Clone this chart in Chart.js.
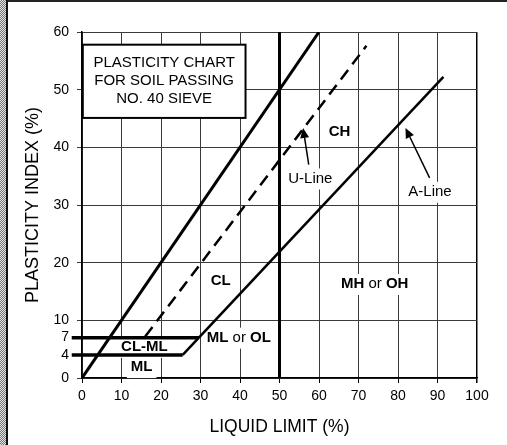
<!DOCTYPE html>
<html>
<head>
<meta charset="utf-8">
<script src="https://cdn.jsdelivr.net/npm/chart.js@4.4.1/dist/chart.umd.min.js"></script>
<style>
    html, body { margin: 0; padding: 0; background: #fff; }
    #wrap { position: relative; width: 507px; height: 445px; overflow: hidden; }
    #plasticity_chart { position: absolute; left: 0; top: 0; }
    .frame-top { position: absolute; left: 0; top: 0; width: 507px; height: 2px; background: #222; }
    .frame-left { position: absolute; left: 0; top: 0; width: 6px; height: 445px;
        background: repeating-conic-gradient(#777 0 25%, #e2e2e2 0 50%) 0 0 / 2px 2px; }
    .frame-left-line { position: absolute; left: 6px; top: 0; width: 2px; height: 445px; background: #111; }
</style>
</head>
<body>
<div id="wrap">
    <canvas id="plasticity_chart" width="507" height="445"></canvas>
    <div class="frame-top"></div>
    <div class="frame-left"></div>
    <div class="frame-left-line"></div>
</div>
<script>
// tick labels
const xTicks = [0, 10, 20, 30, 40, 50, 60, 70, 80, 90, 100];
const yTicks = [0, 4, 7, 10, 20, 30, 40, 50, 60];

// boundary lines, liquid limit (x) and plasticity index (y)
const upperLL = [0, 60],     upperPI = [0, 60];
const uLineLL = [16, 72],    uLinePI = [7.2, 57.6];
const aLineLL = [25.5, 91.5], aLinePI = [4, 52.2];
const ll50LL = [50, 50],     ll50PI = [0, 60];
const pi7LL = [-2.6, 29.6],  pi7PI = [7, 7];
const pi4LL = [-2.6, 25.5],  pi4PI = [4, 4];

// text in the chart
const titleLines = ["PLASTICITY CHART", "FOR SOIL PASSING", "NO. 40 SIEVE"];
const titleBox = { x0: 0.2, x1: 41.4, y0: 45.1, y1: 57.8 };
const zoneLabels = [
    { parts: [["CH", true]], x: 65.2, y: 42.6 },
    { parts: [["CL", true]], x: 35.1, y: 16.9 },
    { parts: [["MH", true], [" or ", false], ["OH", true]], x: 74.1, y: 16.3 },
    { parts: [["ML", true], [" or ", false], ["OL", true]], x: 39.7, y: 7.0 },
    { parts: [["CL-ML", true]], x: 15.8, y: 5.4 },
    { parts: [["ML", true]], x: 15.1, y: 1.9 },
    { parts: [["U-Line", false]], x: 57.8, y: 34.6 },
    { parts: [["A-Line", false]], x: 88.1, y: 32.3 }
];
const arrows = [
    { from: [57.4, 37.0], to: [55.97, 43.35] },
    { from: [88.0, 34.7], to: [81.9, 43.35] }
];

const FONT = "'Liberation Sans', Arial, sans-serif";
Chart.defaults.font.family = FONT;
Chart.defaults.color = "#000";

function points(xs, ys) {
    return xs.map(function (x, i) { return { x: x, y: ys[i] }; });
}

function lineSet(xs, ys, width, extra) {
    return Object.assign({
        data: points(xs, ys),
        showLine: true,
        borderColor: "#000",
        borderWidth: width,
        pointRadius: 0,
        fill: false
    }, extra || {});
}

function labelFont(bold) {
    return (bold ? "bold " : "") + "15px " + FONT;
}

function labelWidth(ctx, parts) {
    let w = 0;
    parts.forEach(function (p) {
        ctx.font = labelFont(p[1]);
        w += ctx.measureText(p[0]).width;
    });
    return w;
}

const plasticityNotes = {
    id: "plasticityNotes",
    beforeDatasetsDraw: function (chart) {
        const ctx = chart.ctx, x = chart.scales.x, y = chart.scales.y;
        ctx.save();
        // white patches behind the labels hide the grid
        ctx.fillStyle = "#fff";
        zoneLabels.forEach(function (l) {
            const w = labelWidth(ctx, l.parts);
            const cx = x.getPixelForValue(l.x), cy = y.getPixelForValue(l.y);
            ctx.fillRect(cx - w / 2 - 4, cy - 10, w + 8, 21);
        });
        // title box
        const bx0 = x.getPixelForValue(titleBox.x0), bx1 = x.getPixelForValue(titleBox.x1);
        const by0 = y.getPixelForValue(titleBox.y1), by1 = y.getPixelForValue(titleBox.y0);
        ctx.fillRect(bx0, by0, bx1 - bx0, by1 - by0);
        ctx.strokeStyle = "#000";
        ctx.lineWidth = 2;
        ctx.strokeRect(bx0, by0, bx1 - bx0, by1 - by0);
        ctx.fillStyle = "#000";
        ctx.font = "15px " + FONT;
        ctx.textAlign = "center";
        ctx.textBaseline = "middle";
        const mid = (by0 + by1) / 2;
        titleLines.forEach(function (t, i) {
            ctx.fillText(t, (bx0 + bx1) / 2, mid + (i - 1) * 18);
        });
        ctx.restore();
    },
    afterDatasetsDraw: function (chart) {
        const ctx = chart.ctx, x = chart.scales.x, y = chart.scales.y;
        ctx.save();
        ctx.fillStyle = "#000";
        ctx.textBaseline = "middle";
        ctx.textAlign = "left";
        zoneLabels.forEach(function (l) {
            let px = x.getPixelForValue(l.x) - labelWidth(ctx, l.parts) / 2;
            const py = y.getPixelForValue(l.y);
            l.parts.forEach(function (p) {
                ctx.font = labelFont(p[1]);
                ctx.fillText(p[0], px, py);
                px += ctx.measureText(p[0]).width;
            });
        });
        // arrows pointing at the lines
        ctx.strokeStyle = "#000";
        ctx.lineWidth = 1.5;
        arrows.forEach(function (a) {
            const x0 = x.getPixelForValue(a.from[0]), y0 = y.getPixelForValue(a.from[1]);
            const x1 = x.getPixelForValue(a.to[0]), y1 = y.getPixelForValue(a.to[1]);
            const ang = Math.atan2(y1 - y0, x1 - x0);
            const hx = x1 - 10 * Math.cos(ang), hy = y1 - 10 * Math.sin(ang);
            ctx.beginPath();
            ctx.moveTo(x0, y0);
            ctx.lineTo(hx, hy);
            ctx.stroke();
            ctx.beginPath();
            ctx.moveTo(x1, y1);
            ctx.lineTo(hx + 4.5 * Math.sin(ang), hy - 4.5 * Math.cos(ang));
            ctx.lineTo(hx - 4.5 * Math.sin(ang), hy + 4.5 * Math.cos(ang));
            ctx.closePath();
            ctx.fill();
        });
        ctx.restore();
    }
};

new Chart(document.getElementById("plasticity_chart").getContext("2d"), {
    type: "scatter",
    data: {
        datasets: [
            lineSet(upperLL, upperPI, 3),
            lineSet(uLineLL, uLinePI, 2.5, { borderDash: [12, 7] }),
            lineSet(aLineLL, aLinePI, 2.5),
            lineSet(ll50LL, ll50PI, 3),
            lineSet(pi7LL, pi7PI, 3.5, { clip: false }),
            lineSet(pi4LL, pi4PI, 3.5, { clip: false })
        ]
    },
    options: {
        responsive: false,
        animation: false,
        devicePixelRatio: 1,
        layout: { padding: { left: 0, top: 32, right: 30, bottom: 0 } },
        plugins: { legend: { display: false }, tooltip: { enabled: false } },
        scales: {
            x: {
                type: "linear",
                min: 0,
                max: 100,
                afterBuildTicks: function (axis) {
                    axis.ticks = xTicks.map(function (v) { return { value: v }; });
                },
                afterFit: function (axis) { axis.height = 67; },
                ticks: { font: { size: 14 }, padding: 5, color: "#000", maxRotation: 0 },
                grid: {
                    color: function (c) { return c.tick && c.tick.value === 100 ? "#000" : "#3a3a3a"; },
                    lineWidth: function (c) { return c.tick && c.tick.value === 100 ? 1.5 : 1; },
                    tickColor: "#000",
                    tickLength: 5
                },
                border: { color: "#000", width: 1.5 },
                title: {
                    display: true,
                    text: "LIQUID LIMIT (%)",
                    font: { size: 17.5 },
                    color: "#000",
                    padding: { top: 4, bottom: 7 }
                }
            },
            y: {
                type: "linear",
                min: 0,
                max: 60,
                afterBuildTicks: function (axis) {
                    axis.ticks = yTicks.map(function (v) { return { value: v }; });
                },
                afterFit: function (axis) { axis.width = 82; },
                ticks: { font: { size: 14 }, padding: 8, color: "#000" },
                grid: {
                    color: function (c) {
                        return c.tick && (c.tick.value === 4 || c.tick.value === 7) ? "rgba(0,0,0,0)" : "#3a3a3a";
                    },
                    tickLength: 5
                },
                border: { color: "#000", width: 1.5 },
                title: {
                    display: true,
                    text: "PLASTICITY INDEX (%)",
                    font: { size: 18 },
                    color: "#000",
                    padding: { top: 22, bottom: 0 }
                }
            }
        }
    },
    plugins: [plasticityNotes]
});
</script>
</body>
</html>
